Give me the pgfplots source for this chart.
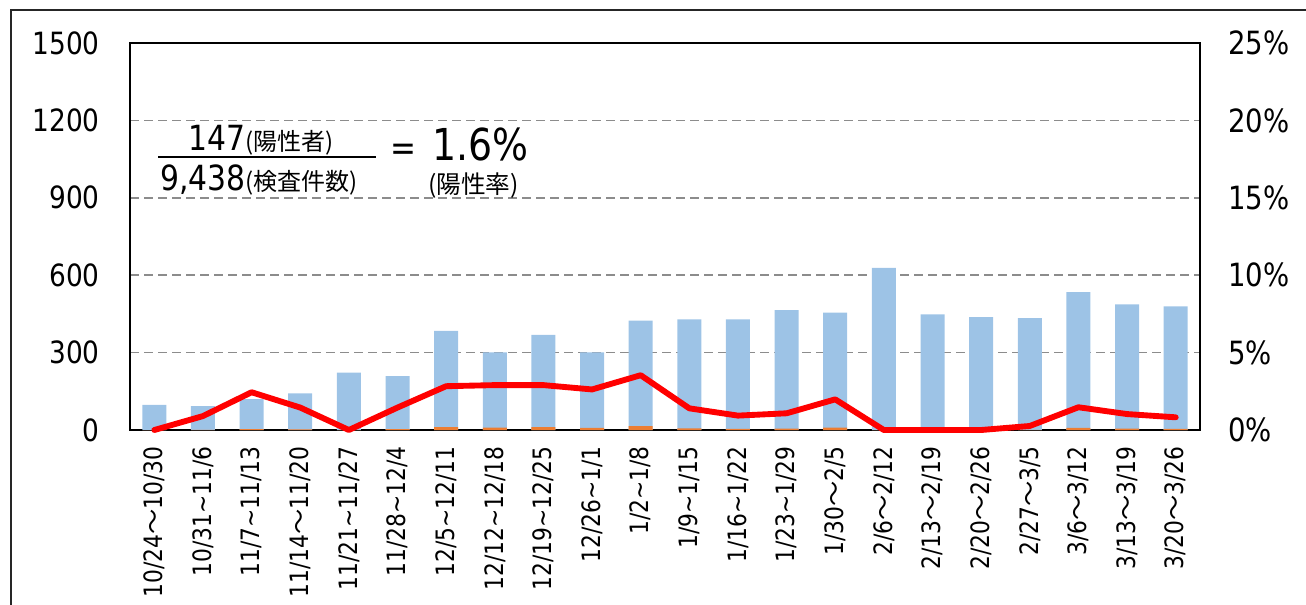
\documentclass[border=0pt]{standalone}
\usepackage{fontspec}
\setmainfont{DejaVu Sans}[FakeStretch=0.86]
\newfontfamily\cjk{Noto Sans CJK JP}
\usepackage{pgfplots}
\usepackage{pgfplotstable}
\pgfplotsset{compat=1.18}
\definecolor{barblue}{HTML}{9DC3E6}
\definecolor{barorange}{HTML}{ED7D31}
\definecolor{gridgray}{HTML}{8C8C8C}
\newcommand{\W}{{\cjk 〜}}
\newcommand{\T}{\textasciitilde}

\pgfplotstableread{
x tests pos rate
0  97  0  0
1  93  1  0.90
2  120 3  2.44
3  142 2  1.45
4  222 0  0
5  209 3  1.45
6  384 11 2.83
7  301 9  2.90
8  369 11 2.90
9  301 8  2.62
10 424 15 3.54
11 429 6  1.40
12 429 4  0.93
13 465 5  1.08
14 455 9  1.98
15 628 0  0
16 448 0  0
17 438 0  0
18 434 1  0.26
19 534 8  1.47
20 487 5  1.03
21 479 4  0.82
}\data

\begin{document}
\begin{tikzpicture}
\useasboundingbox (0,0) rectangle (979.5pt,-453pt);
\begin{axis}[
  at={(97.5pt,-322.5pt)}, anchor=south west,
  scale only axis, width=802.5pt, height=290.25pt,
  xmin=-0.5, xmax=21.5, ymin=0, ymax=1500,
  axis line style={line width=1.3pt, black},
  ytick={0,300,600,900,1200,1500},
  yticklabels={0,300,600,900,1200,1500},
  xtick={0,...,21},
  xticklabels={10/24\W10/30, 10/31\T11/6, 11/7\T11/13, 11/14\W11/20, 11/21\T11/27, 11/28\T12/4, 12/5\T12/11, 12/12\T12/18, 12/19\T12/25, 12/26\T1/1, 1/2\T1/8, 1/9\T1/15, 1/16\T1/22, 1/23\T1/29, 1/30\W2/5, 2/6\W2/12, 2/13\W2/19, 2/20\W2/26, 2/27\W3/5, 3/6\W3/12, 3/13\W3/19, 3/20\W3/26},
  major tick length=0pt,
  /pgf/number format/assume math mode=true,
  yticklabel style={font=\fontsize{23}{23}\selectfont, anchor=east, inner sep=0pt, xshift=-22.5pt},
  xticklabel style={font=\fontsize{19}{19}\selectfont, yshift=-12pt, rotate=90, anchor=east, inner sep=0pt},
  ymajorgrids,
  grid style={gridgray, line width=1.1pt, dash pattern=on 6.5pt off 4pt},
]
\addplot[ybar, bar width=18pt, bar shift=0pt, fill=barblue, draw=none] table[x=x, y=tests] {\data};
\addplot[ybar, bar width=18pt, bar shift=0pt, fill=barorange, draw=none] table[x=x, y=pos] {\data};
\end{axis}
\begin{axis}[
  at={(97.5pt,-322.5pt)}, anchor=south west,
  scale only axis, width=802.5pt, height=290.25pt,
  xmin=-0.5, xmax=21.5, ymin=0, ymax=25,
  axis x line=none,
  axis y line*=right,
  y axis line style={draw=none},
  ytick={0,5,10,15,20,25},
  yticklabels={0\%,5\%,10\%,15\%,20\%,25\%},
  major tick length=0pt,
  yticklabel style={font=\fontsize{24}{24}\selectfont, anchor=west, inner sep=0pt, xshift=21pt},
  clip=false,
]
\addplot[red, line width=4.4pt, line join=round, line cap=round] table[x=x, y=rate] {\data};
\end{axis}
\draw[line width=1.5pt, black!85] (8.25pt,-460pt) -- (8.25pt,-7.5pt) -- (990pt,-7.5pt);
\node[anchor=base west, inner sep=0pt] at (141pt,-112.5pt) {\fontsize{26}{26}\selectfont 147{\cjk\fontsize{18}{18}\selectfont (陽性者)}};
\draw[line width=1.5pt] (118.5pt,-117.75pt) -- (282pt,-117.75pt);
\node[anchor=base west, inner sep=0pt] at (120pt,-142.5pt) {\fontsize{26}{26}\selectfont 9,438{\cjk\fontsize{18}{18}\selectfont (検査件数)}};
\node[anchor=base west, inner sep=0pt] at (292.5pt,-120pt) {\fontsize{27}{27}\selectfont =};
\node[anchor=base west, inner sep=0pt] at (324pt,-120pt) {\fontsize{33}{33}\selectfont 1.6\%};
\node[anchor=base west, inner sep=0pt] at (321pt,-144.75pt) {\cjk\fontsize{18.5}{18.5}\selectfont (陽性率)};
\end{tikzpicture}
\end{document}
